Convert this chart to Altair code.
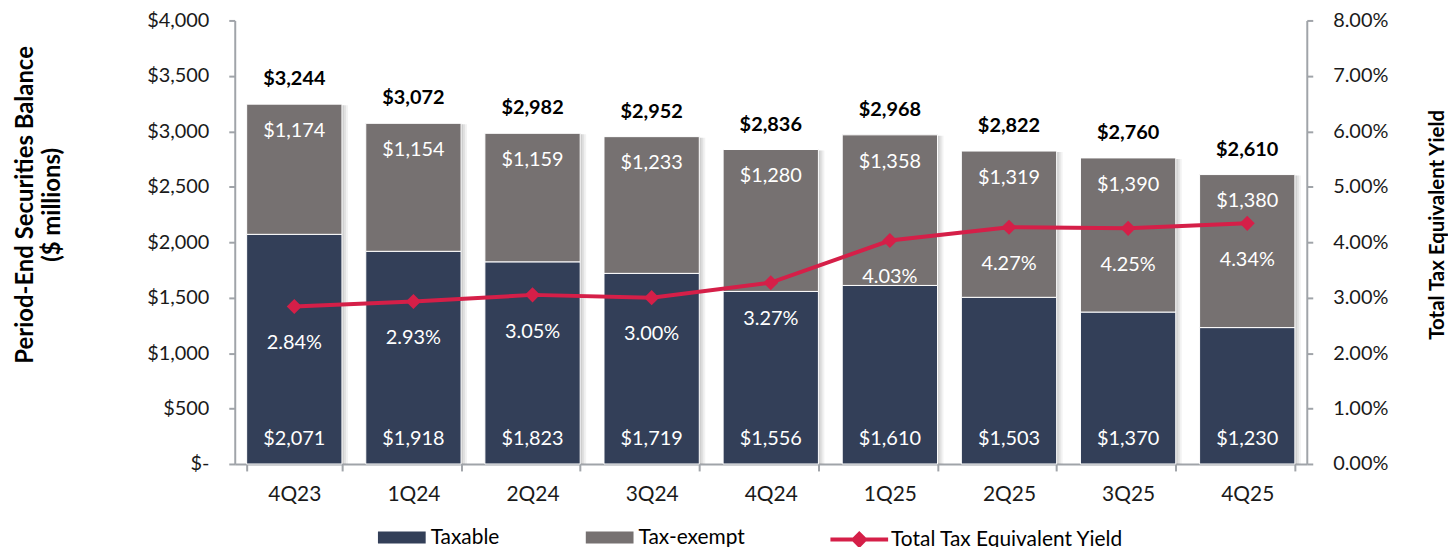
import altair as alt
import pandas as pd

quarters = ["4Q23", "1Q24", "2Q24", "3Q24", "4Q24", "1Q25", "2Q25", "3Q25", "4Q25"]
taxable = [2071, 1918, 1823, 1719, 1556, 1610, 1503, 1370, 1230]
tax_exempt = [1174, 1154, 1159, 1233, 1280, 1358, 1319, 1390, 1380]
totals = [3244, 3072, 2982, 2952, 2836, 2968, 2822, 2760, 2610]
yields = [2.84, 2.93, 3.05, 3.00, 3.27, 4.03, 4.27, 4.25, 4.34]
segments = ["Taxable", "Tax-exempt"]
series_name = "Total Tax Equivalent Yield"
left_ticks = [0, 500, 1000, 1500, 2000, 2500, 3000, 3500, 4000]
right_ticks = [0, 1, 2, 3, 4, 5, 6, 7, 8]

seg_colors = ["#333F58", "#767171"]
line_color = "#D51F48"
axis_color = "#A0A4A9"
FONT = "Lato"
FS = 20

rows = []
for i, q in enumerate(quarters):
    rows.append(dict(quarter=q, segment="Taxable", value=taxable[i], ord=0))
    rows.append(dict(quarter=q, segment="Tax-exempt", value=tax_exempt[i], ord=1))
bars_df = pd.DataFrame(rows)

summ = pd.DataFrame(dict(quarter=quarters, taxable=taxable, tax_exempt=tax_exempt,
                         total=totals, yld=yields))
summ["zero"] = 0
summ["series"] = series_name
summ["total_label"] = ["$" + f"{v:,}" for v in totals]
summ["te_label"] = ["$" + f"{v:,}" for v in tax_exempt]
summ["tx_label"] = ["$" + f"{v:,}" for v in taxable]
summ["yld_label"] = [f"{v:.2f}%" for v in yields]

x_enc = alt.X("quarter:N", sort=quarters,
              scale=alt.Scale(paddingInner=0.2, paddingOuter=0.1),
              axis=alt.Axis(title=None, labelAngle=0, tickBand="extent", tickSize=7,
                            labelPadding=13, domainColor=axis_color, tickColor=axis_color,
                            domainWidth=2, tickWidth=2, labelFontSize=21, labelColor="#1a1a1a",
                            labelFont=FONT))

yl_scale = alt.Scale(domain=[0, 4000], nice=False)
yr_scale = alt.Scale(domain=[0, 8], nice=False)

left_axis = alt.Axis(
    orient="left", values=left_ticks,
    labelExpr="datum.value == 0 ? '$-' : '$' + format(datum.value, ',')",
    title=["Period-End Securities Balance", "($ millions)"],
    titleAngle=270, titleX=-210, titleY=185, titleAlign="center", titleBaseline="middle",
    titleFontSize=24, titleFont=FONT, titleFontWeight="bold", titleColor="#000",
    titleLineHeight=27,
    tickSize=6, labelPadding=20, domainColor=axis_color, tickColor=axis_color,
    domainWidth=2, tickWidth=2, labelFontSize=FS, labelFont=FONT, labelColor="#1a1a1a",
    grid=False)

right_axis = alt.Axis(
    orient="right", values=right_ticks,
    labelExpr="format(datum.value, '.2f') + '%'",
    title=series_name,
    titleAngle=270, titleX=131, titleY=205, titleAlign="center", titleBaseline="middle",
    titleFontSize=20.5, titleFont=FONT, titleFontWeight="bold", titleColor="#000",
    tickSize=6, labelPadding=20, domainColor=axis_color, tickColor=axis_color,
    domainWidth=2, tickWidth=2, labelFontSize=FS, labelFont=FONT, labelColor="#1a1a1a",
    grid=False)

base = alt.Chart(summ)

shadows = [
    base.mark_bar(color="#7f7f7f", opacity=op, xOffset=off, yOffset=1).encode(
        x=x_enc, y=alt.Y("total:Q", scale=yl_scale, axis=left_axis), y2="zero:Q")
    for off, op in [(6, 0.10), (4, 0.14), (2, 0.18)]
]

bars = alt.Chart(bars_df).mark_bar(stroke="white", strokeWidth=1).encode(
    x=x_enc,
    y=alt.Y("value:Q", stack="zero", scale=yl_scale, axis=left_axis),
    fill=alt.Fill("segment:N", scale=alt.Scale(domain=segments, range=seg_colors),
                  legend=alt.Legend(title=None, orient="none", legendX=144, legendY=496,
                                    direction="horizontal",
                                    symbolType="M-1,-0.25H1V0.25H-1Z", symbolSize=2304,
                                    symbolStrokeWidth=0, labelOffset=5, columnPadding=86,
                                    labelFontSize=21, labelFont=FONT, labelColor="#000")),
    order=alt.Order("ord:Q", sort="ascending"),
)

total_text = base.mark_text(font=FONT, fontSize=FS, fontWeight="bold", color="#000",
                            baseline="middle", dy=-25).encode(
    x=x_enc, y=alt.Y("total:Q", scale=yl_scale, axis=left_axis), text="total_label:N")
te_text = base.mark_text(font=FONT, fontSize=FS, color="white",
                         baseline="middle", dy=27).encode(
    x=x_enc, y=alt.Y("total:Q", scale=yl_scale, axis=left_axis), text="te_label:N")
tx_text = base.mark_text(font=FONT, fontSize=FS, color="white",
                         baseline="middle", dy=-25).encode(
    x=x_enc, y=alt.Y("zero:Q", scale=yl_scale, axis=left_axis), text="tx_label:N")

left_group = alt.layer(*shadows, bars, total_text, te_text, tx_text)

line = base.mark_line(strokeWidth=4).encode(
    x=x_enc,
    y=alt.Y("yld:Q", scale=yr_scale, axis=right_axis),
    stroke=alt.Stroke("series:N", scale=alt.Scale(domain=[series_name], range=[line_color]),
                      legend=alt.Legend(title=None, orient="none", legendX=597, legendY=491,
                                        symbolType="M-1,0H1M-0.2,0L0,-0.2L0.2,0L0,0.2Z",
                                        symbolSize=3364, symbolStrokeWidth=4,
                                        symbolFillColor=line_color, labelOffset=1,
                                        labelLimit=400,
                                        labelFontSize=21, labelFont=FONT, labelColor="#000")),
)
points = base.mark_point(shape="diamond", filled=True, size=230, color=line_color,
                         opacity=1).encode(
    x=x_enc, y=alt.Y("yld:Q", scale=yr_scale, axis=right_axis))
yld_text = base.mark_text(font=FONT, fontSize=FS, color="white",
                          baseline="middle", dy=37).encode(
    x=x_enc, y=alt.Y("yld:Q", scale=yr_scale, axis=right_axis), text="yld_label:N")

right_group = alt.layer(line, points, yld_text)

chart = alt.layer(left_group, right_group).resolve_scale(
    y="independent", fill="independent", stroke="independent"
).properties(
    width=1078, height=446,
    autosize=alt.AutoSizeParams(type="none"),
    padding={"left": 228, "top": 11, "right": 142, "bottom": 85},
).configure(font=FONT).configure_view(strokeWidth=0)

chart.save("out.html", embed_options={"renderer": "svg", "actions": False})
